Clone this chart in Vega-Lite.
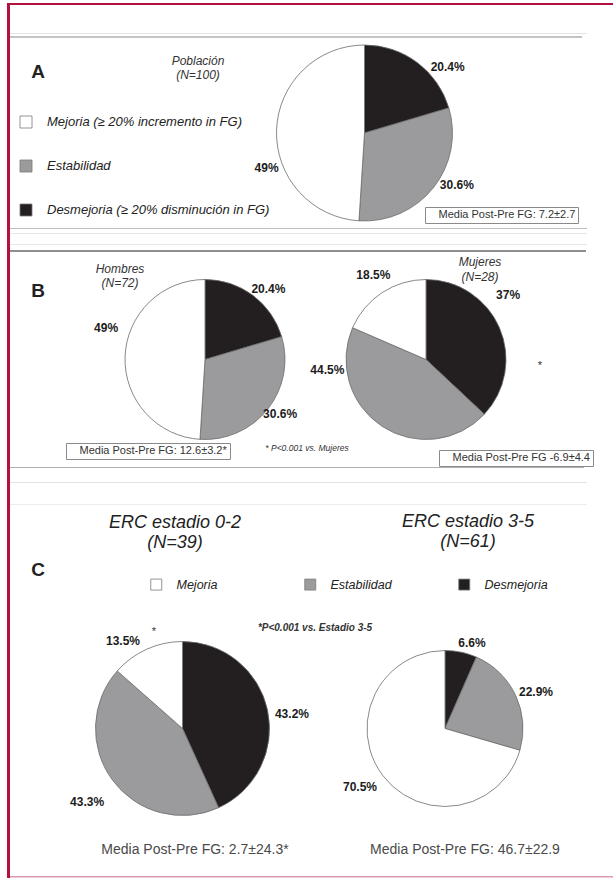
{
  "$schema": "https://vega.github.io/schema/vega-lite/v6.json",
  "padding": {"left": 7, "top": 3, "right": 0, "bottom": 0},
  "background": "#ffffff",
  "config": {
    "view": {"stroke": null},
    "font": "Liberation Sans",
    "text": {"font": "Liberation Sans"},
    "legend": {"labelFont": "Liberation Sans"}
  },
  "datasets": {
    "pies": [
      {"panel": "A", "grupo": "Población", "cat": "Desmejoria", "prop": 0.204},
      {"panel": "A", "grupo": "Población", "cat": "Estabilidad", "prop": 0.306},
      {"panel": "A", "grupo": "Población", "cat": "Mejoria", "prop": 0.49},
      {"panel": "B", "grupo": "Hombres", "cat": "Desmejoria", "prop": 0.204},
      {"panel": "B", "grupo": "Hombres", "cat": "Estabilidad", "prop": 0.306},
      {"panel": "B", "grupo": "Hombres", "cat": "Mejoria", "prop": 0.49},
      {"panel": "B", "grupo": "Mujeres", "cat": "Desmejoria", "prop": 0.37},
      {"panel": "B", "grupo": "Mujeres", "cat": "Estabilidad", "prop": 0.445},
      {"panel": "B", "grupo": "Mujeres", "cat": "Mejoria", "prop": 0.185},
      {"panel": "C", "grupo": "ERC estadio 0-2", "cat": "Desmejoria", "prop": 0.432},
      {"panel": "C", "grupo": "ERC estadio 0-2", "cat": "Estabilidad", "prop": 0.433},
      {"panel": "C", "grupo": "ERC estadio 0-2", "cat": "Mejoria", "prop": 0.135},
      {"panel": "C", "grupo": "ERC estadio 3-5", "cat": "Desmejoria", "prop": 0.066},
      {"panel": "C", "grupo": "ERC estadio 3-5", "cat": "Estabilidad", "prop": 0.229},
      {"panel": "C", "grupo": "ERC estadio 3-5", "cat": "Mejoria", "prop": 0.705}
    ],
    "grupos": [
      {"grupo": "Población", "titulo": "Población\n(N=100)", "nota": "Media Post-Pre FG: 7.2±2.7"},
      {"grupo": "Hombres", "titulo": "Hombres\n(N=72)", "nota": "Media Post-Pre FG: 12.6±3.2*"},
      {"grupo": "Mujeres", "titulo": "Mujeres\n(N=28)", "nota": "Media Post-Pre FG -6.9±4.4"},
      {"grupo": "ERC estadio 0-2", "titulo": "ERC estadio 0-2\n(N=39)", "nota": "Media Post-Pre FG: 2.7±24.3*"},
      {"grupo": "ERC estadio 3-5", "titulo": "ERC estadio 3-5\n(N=61)", "nota": "Media Post-Pre FG: 46.7±22.9"}
    ],
    "anot": [
      {"id": "A", "texto": "A"},
      {"id": "B", "texto": "B"},
      {"id": "C", "texto": "C"},
      {"id": "pB", "texto": "* P<0.001 vs. Mujeres"},
      {"id": "sB", "texto": "*"},
      {"id": "pC", "texto": "*P<0.001 vs. Estadio 3-5"},
      {"id": "sC", "texto": "*"}
    ]
  },
  "spacing": 0,
  "resolve": {"scale": {"color": "independent", "shape": "independent", "theta": "independent"}},
  "vconcat": [
    {"width": 606, "height": 2, "data": {"values": []}, "mark": "rect", "view": {"fill": "#b3123e"}},
    {
      "spacing": 0,
      "resolve": {"scale": {"color": "independent", "shape": "independent", "theta": "independent"}},
      "hconcat": [
        {"width": 3, "height": 873, "data": {"values": []}, "mark": "rect", "view": {"fill": "#b3123e"}},
        {
          "spacing": 0,
          "bounds": "flush",
          "resolve": {"scale": {"color": "independent", "shape": "independent", "theta": "independent"}},
          "vconcat": [
            {"width": 603, "height": 28, "data": {"values": []}, "mark": "rect"},
            {"width": 577, "height": 1, "data": {"values": []}, "mark": "rect", "view": {"fill": "#e3e3e3"}},
            {"width": 10, "height": 2, "data": {"values": []}, "mark": "rect"},
            {"width": 572, "height": 2, "data": {"values": []}, "mark": "rect", "view": {"fill": "#c4c4c4"}},
            {
              "width": 603, "height": 190,
              "layer": [
                {
                  "data": {"name": "pies"},
                  "transform": [{"filter": "datum.grupo === 'Población'"}],
                  "mark": {"type": "arc", "outerRadius": 88, "stroke": "#6b6b6b", "strokeWidth": 0.8},
                  "encoding": {
                    "x": {"field": "grupo", "type": "nominal", "scale": {"type": "point", "domain": ["Población"], "align": 0.5879}, "axis": null},
                    "theta": {"field": "prop", "type": "quantitative", "stack": true},
                    "order": {"field": "cat", "type": "nominal", "sort": "ascending"},
                    "color": {
                      "field": "cat", "type": "nominal",
                      "scale": {"domain": ["Mejoria", "Estabilidad", "Desmejoria"], "range": ["#ffffff", "#9b9b9d", "#231f20"]},
                      "legend": {
                        "orient": "none", "legendX": 9.5, "legendY": 77.5, "direction": "vertical", "title": null,
                        "symbolType": "square", "symbolSize": 144, "symbolStrokeColor": "#7a7a7a", "symbolStrokeWidth": 0.8,
                        "labelFontSize": 13, "labelFontStyle": "italic", "labelColor": "#222222", "labelOffset": 14.5,
                        "rowPadding": 27, "padding": 0, "labelLimit": 400,
                        "labelExpr": "datum.label === 'Mejoria' ? 'Mejoria (≥ 20% incremento in FG)' : datum.label === 'Desmejoria' ? 'Desmejoria (≥ 20% disminución in FG)' : datum.label"
                      }
                    }
                  }
                },
                {
                  "data": {"name": "pies"},
                  "transform": [{"filter": "datum.grupo === 'Población'"}],
                  "mark": {"type": "text", "radius": 104, "dx": 21, "dy": 17, "fontSize": 12, "fontWeight": "bold", "color": "#1c1c1c"},
                  "encoding": {
                    "x": {"field": "grupo", "type": "nominal", "axis": null},
                    "theta": {"field": "prop", "type": "quantitative", "stack": true},
                    "order": {"field": "cat", "type": "nominal", "sort": "ascending"},
                    "detail": {"field": "cat"},
                    "text": {"field": "prop", "type": "quantitative", "format": ".1~%", "condition": {"test": "datum.cat !== 'Desmejoria'", "value": ""}}
                  }
                },
                {
                  "data": {"name": "pies"},
                  "transform": [{"filter": "datum.grupo === 'Población'"}],
                  "mark": {"type": "text", "radius": 104, "dx": 11, "dy": -13, "fontSize": 12, "fontWeight": "bold", "color": "#1c1c1c"},
                  "encoding": {
                    "x": {"field": "grupo", "type": "nominal", "axis": null},
                    "theta": {"field": "prop", "type": "quantitative", "stack": true},
                    "order": {"field": "cat", "type": "nominal", "sort": "ascending"},
                    "detail": {"field": "cat"},
                    "text": {"field": "prop", "type": "quantitative", "format": ".1~%", "condition": {"test": "datum.cat !== 'Estabilidad'", "value": ""}}
                  }
                },
                {
                  "data": {"name": "pies"},
                  "transform": [{"filter": "datum.grupo === 'Población'"}],
                  "mark": {"type": "text", "radius": 104, "dx": 6, "dy": 38, "fontSize": 12, "fontWeight": "bold", "color": "#1c1c1c"},
                  "encoding": {
                    "x": {"field": "grupo", "type": "nominal", "axis": null},
                    "theta": {"field": "prop", "type": "quantitative", "stack": true},
                    "order": {"field": "cat", "type": "nominal", "sort": "ascending"},
                    "detail": {"field": "cat"},
                    "text": {"field": "prop", "type": "quantitative", "format": ".1~%", "condition": {"test": "datum.cat !== 'Mejoria'", "value": ""}}
                  }
                },
                {
                  "data": {"name": "grupos"},
                  "transform": [{"filter": "datum.grupo === 'Población'"}],
                  "mark": {"type": "text", "dx": -166.5, "dy": -72, "fontSize": 12, "fontStyle": "italic", "color": "#333333", "lineBreak": "\n", "lineHeight": 14},
                  "encoding": {
                    "x": {"field": "grupo", "type": "nominal", "axis": null},
                    "text": {"field": "titulo"}
                  }
                },
                {
                  "data": {"name": "anot"},
                  "transform": [{"filter": "datum.id === 'A'"}],
                  "mark": {"type": "text", "dx": -273.5, "dy": -61, "fontSize": 19, "fontWeight": "bold", "color": "#222222"},
                  "encoding": {"text": {"field": "texto"}}
                },
                {
                  "data": {"name": "grupos"},
                  "transform": [{"filter": "datum.grupo === 'Población'"}],
                  "mark": {"type": "point", "opacity": 0},
                  "encoding": {
                    "shape": {
                      "field": "nota", "type": "nominal",
                      "legend": {"orient": "none", "legendX": 415, "legendY": 169, "title": null, "strokeColor": "#8a8a8a", "fillColor": "#ffffff", "padding": 2.5, "symbolSize": 0, "symbolOpacity": 0, "symbolStrokeWidth": 0, "labelOffset": 0, "labelFontSize": 11, "labelColor": "#333333", "labelLimit": 400}
                    }
                  }
                }
              ]
            },
            {"width": 577, "height": 1, "data": {"values": []}, "mark": "rect", "view": {"fill": "#bdbdbd"}},
            {"width": 10, "height": 4, "data": {"values": []}, "mark": "rect"},
            {"width": 577, "height": 1, "data": {"values": []}, "mark": "rect", "view": {"fill": "#e8e8e8"}},
            {"width": 10, "height": 10, "data": {"values": []}, "mark": "rect"},
            {"width": 577, "height": 1, "data": {"values": []}, "mark": "rect", "view": {"fill": "#e8e8e8"}},
            {"width": 10, "height": 5, "data": {"values": []}, "mark": "rect"},
            {"width": 576, "height": 2, "data": {"values": []}, "mark": "rect", "view": {"fill": "#8e8e8e"}},
            {
              "width": 603, "height": 215,
              "resolve": {"scale": {"shape": "independent"}},
              "layer": [
                {
                  "data": {"name": "pies"},
                  "transform": [{"filter": "datum.grupo === 'Hombres'"}],
                  "mark": {"type": "arc", "outerRadius": 80, "stroke": "#6b6b6b", "strokeWidth": 0.8},
                  "encoding": {
                    "x": {"field": "grupo", "type": "nominal", "scale": {"type": "point", "domain": ["Hombres", "Mujeres"], "padding": 0.86425, "align": 0.5105}, "axis": null},
                    "theta": {"field": "prop", "type": "quantitative", "stack": true},
                    "order": {"field": "cat", "type": "nominal", "sort": "ascending"},
                    "color": {"field": "cat", "type": "nominal", "scale": {"domain": ["Mejoria", "Estabilidad", "Desmejoria"], "range": ["#ffffff", "#9b9b9d", "#231f20"]}, "legend": null}
                  }
                },
                {
                  "data": {"name": "pies"},
                  "transform": [{"filter": "datum.grupo === 'Mujeres'"}],
                  "mark": {"type": "arc", "outerRadius": 80, "stroke": "#6b6b6b", "strokeWidth": 0.8},
                  "encoding": {
                    "x": {"field": "grupo", "type": "nominal", "scale": {"type": "point", "domain": ["Hombres", "Mujeres"], "padding": 0.86425, "align": 0.5105}, "axis": null},
                    "theta": {"field": "prop", "type": "quantitative", "stack": true},
                    "order": {"field": "cat", "type": "nominal", "sort": "ascending"},
                    "color": {"field": "cat", "type": "nominal", "scale": {"domain": ["Mejoria", "Estabilidad", "Desmejoria"], "range": ["#ffffff", "#9b9b9d", "#231f20"]}, "legend": null}
                  }
                },
                {
                  "data": {"name": "pies"},
                  "transform": [{"filter": "datum.grupo === 'Hombres'"}],
                  "mark": {"type": "text", "radius": 96, "dx": 6, "dy": 6, "fontSize": 12, "fontWeight": "bold", "color": "#1c1c1c"},
                  "encoding": {
                    "x": {"field": "grupo", "type": "nominal", "axis": null},
                    "theta": {"field": "prop", "type": "quantitative", "stack": true},
                    "order": {"field": "cat", "type": "nominal", "sort": "ascending"},
                    "detail": {"field": "cat"},
                    "text": {"field": "prop", "type": "quantitative", "format": ".1~%", "condition": {"test": "datum.cat !== 'Desmejoria'", "value": ""}}
                  }
                },
                {
                  "data": {"name": "pies"},
                  "transform": [{"filter": "datum.grupo === 'Hombres'"}],
                  "mark": {"type": "text", "radius": 96, "dx": 0, "dy": -5, "fontSize": 12, "fontWeight": "bold", "color": "#1c1c1c"},
                  "encoding": {
                    "x": {"field": "grupo", "type": "nominal", "axis": null},
                    "theta": {"field": "prop", "type": "quantitative", "stack": true},
                    "order": {"field": "cat", "type": "nominal", "sort": "ascending"},
                    "detail": {"field": "cat"},
                    "text": {"field": "prop", "type": "quantitative", "format": ".1~%", "condition": {"test": "datum.cat !== 'Estabilidad'", "value": ""}}
                  }
                },
                {
                  "data": {"name": "pies"},
                  "transform": [{"filter": "datum.grupo === 'Hombres'"}],
                  "mark": {"type": "text", "radius": 96, "dx": -3, "dy": -28, "fontSize": 12, "fontWeight": "bold", "color": "#1c1c1c"},
                  "encoding": {
                    "x": {"field": "grupo", "type": "nominal", "axis": null},
                    "theta": {"field": "prop", "type": "quantitative", "stack": true},
                    "order": {"field": "cat", "type": "nominal", "sort": "ascending"},
                    "detail": {"field": "cat"},
                    "text": {"field": "prop", "type": "quantitative", "format": ".1~%", "condition": {"test": "datum.cat !== 'Mejoria'", "value": ""}}
                  }
                },
                {
                  "data": {"name": "pies"},
                  "transform": [{"filter": "datum.grupo === 'Mujeres'"}],
                  "mark": {"type": "text", "radius": 96, "dx": -6, "dy": -26, "fontSize": 12, "fontWeight": "bold", "color": "#1c1c1c"},
                  "encoding": {
                    "x": {"field": "grupo", "type": "nominal", "axis": null},
                    "theta": {"field": "prop", "type": "quantitative", "stack": true},
                    "order": {"field": "cat", "type": "nominal", "sort": "ascending"},
                    "detail": {"field": "cat"},
                    "text": {"field": "prop", "type": "quantitative", "format": ".1~%", "condition": {"test": "datum.cat !== 'Desmejoria'", "value": ""}}
                  }
                },
                {
                  "data": {"name": "pies"},
                  "transform": [{"filter": "datum.grupo === 'Mujeres'"}],
                  "mark": {"type": "text", "radius": 96, "dx": -46, "dy": -70, "fontSize": 12, "fontWeight": "bold", "color": "#1c1c1c"},
                  "encoding": {
                    "x": {"field": "grupo", "type": "nominal", "axis": null},
                    "theta": {"field": "prop", "type": "quantitative", "stack": true},
                    "order": {"field": "cat", "type": "nominal", "sort": "ascending"},
                    "detail": {"field": "cat"},
                    "text": {"field": "prop", "type": "quantitative", "format": ".1~%", "condition": {"test": "datum.cat !== 'Estabilidad'", "value": ""}}
                  }
                },
                {
                  "data": {"name": "pies"},
                  "transform": [{"filter": "datum.grupo === 'Mujeres'"}],
                  "mark": {"type": "text", "radius": 96, "dx": 0, "dy": -4, "fontSize": 12, "fontWeight": "bold", "color": "#1c1c1c"},
                  "encoding": {
                    "x": {"field": "grupo", "type": "nominal", "axis": null},
                    "theta": {"field": "prop", "type": "quantitative", "stack": true},
                    "order": {"field": "cat", "type": "nominal", "sort": "ascending"},
                    "detail": {"field": "cat"},
                    "text": {"field": "prop", "type": "quantitative", "format": ".1~%", "condition": {"test": "datum.cat !== 'Mejoria'", "value": ""}}
                  }
                },
                {
                  "data": {"name": "grupos"},
                  "transform": [{"filter": "datum.grupo === 'Hombres'"}],
                  "mark": {"type": "text", "dx": -85, "dy": -90.5, "fontSize": 12, "fontStyle": "italic", "color": "#333333", "lineBreak": "\n", "lineHeight": 14},
                  "encoding": {
                    "x": {"field": "grupo", "type": "nominal", "axis": null},
                    "text": {"field": "titulo"}
                  }
                },
                {
                  "data": {"name": "grupos"},
                  "transform": [{"filter": "datum.grupo === 'Mujeres'"}],
                  "mark": {"type": "text", "dx": 54, "dy": -97.5, "fontSize": 12, "fontStyle": "italic", "color": "#333333", "lineBreak": "\n", "lineHeight": 15},
                  "encoding": {
                    "x": {"field": "grupo", "type": "nominal", "axis": null},
                    "text": {"field": "titulo"}
                  }
                },
                {
                  "data": {"name": "anot"},
                  "transform": [{"filter": "datum.id === 'B'"}],
                  "mark": {"type": "text", "dx": -273.5, "dy": -68.5, "fontSize": 19, "fontWeight": "bold", "color": "#222222"},
                  "encoding": {"text": {"field": "texto"}}
                },
                {
                  "data": {"name": "anot"},
                  "transform": [{"filter": "datum.id === 'pB'"}],
                  "mark": {"type": "text", "dx": -4.5, "dy": 88.5, "fontSize": 8.5, "fontStyle": "italic", "color": "#333333"},
                  "encoding": {"text": {"field": "texto"}}
                },
                {
                  "data": {"name": "anot"},
                  "transform": [{"filter": "datum.id === 'sB'"}],
                  "mark": {"type": "text", "dx": 228.5, "dy": 6.5, "fontSize": 11, "color": "#333333"},
                  "encoding": {"text": {"field": "texto"}}
                },
                {
                  "data": {"name": "grupos"},
                  "transform": [{"filter": "datum.grupo === 'Hombres'"}],
                  "mark": {"type": "point", "opacity": 0},
                  "encoding": {
                    "shape": {
                      "field": "nota", "type": "nominal",
                      "legend": {"orient": "none", "legendX": 56, "legendY": 191, "title": null, "strokeColor": "#8a8a8a", "fillColor": "#ffffff", "padding": 2.5, "symbolSize": 0, "symbolOpacity": 0, "symbolStrokeWidth": 0, "labelOffset": 0, "labelFontSize": 11, "labelColor": "#333333", "labelLimit": 400}
                    }
                  }
                },
                {
                  "data": {"name": "grupos"},
                  "transform": [{"filter": "datum.grupo === 'Mujeres'"}],
                  "mark": {"type": "point", "opacity": 0},
                  "encoding": {
                    "shape": {
                      "field": "nota", "type": "nominal",
                      "legend": {"orient": "none", "legendX": 429, "legendY": 198, "title": null, "strokeColor": "#8a8a8a", "fillColor": "#ffffff", "padding": 2.5, "symbolSize": 0, "symbolOpacity": 0, "symbolStrokeWidth": 0, "labelOffset": 0, "labelFontSize": 11, "labelColor": "#333333", "labelLimit": 400}
                    }
                  }
                }
              ]
            },
            {"width": 574, "height": 1, "data": {"values": []}, "mark": "rect", "view": {"fill": "#b0b0b0"}},
            {"width": 10, "height": 14, "data": {"values": []}, "mark": "rect"},
            {"width": 577, "height": 1, "data": {"values": []}, "mark": "rect", "view": {"fill": "#e3e3e3"}},
            {"width": 10, "height": 21, "data": {"values": []}, "mark": "rect"},
            {"width": 577, "height": 1, "data": {"values": []}, "mark": "rect", "view": {"fill": "#ececec"}},
            {
              "width": 603, "height": 136,
              "layer": [
                {
                  "data": {"name": "grupos"},
                  "transform": [{"filter": "datum.grupo === 'ERC estadio 0-2'"}],
                  "mark": {"type": "text", "dx": -7.5, "dy": -50, "fontSize": 18, "fontStyle": "italic", "color": "#222222", "lineBreak": "\n", "lineHeight": 20},
                  "encoding": {
                    "x": {"field": "grupo", "type": "nominal", "scale": {"type": "point", "domain": ["ERC estadio 0-2", "ERC estadio 3-5"], "padding": 0.64857, "align": 0.50661}, "axis": null},
                    "text": {"field": "titulo"}
                  }
                },
                {
                  "data": {"name": "grupos"},
                  "transform": [{"filter": "datum.grupo === 'ERC estadio 3-5'"}],
                  "mark": {"type": "text", "dx": 23, "dy": -51, "fontSize": 18, "fontStyle": "italic", "color": "#222222", "lineBreak": "\n", "lineHeight": 20},
                  "encoding": {
                    "x": {"field": "grupo", "type": "nominal", "scale": {"type": "point", "domain": ["ERC estadio 0-2", "ERC estadio 3-5"], "padding": 0.64857, "align": 0.50661}, "axis": null},
                    "text": {"field": "titulo"}
                  }
                },
                {
                  "data": {"name": "anot"},
                  "transform": [{"filter": "datum.id === 'C'"}],
                  "mark": {"type": "text", "dx": -273.5, "dy": -3, "fontSize": 19, "fontWeight": "bold", "color": "#222222"},
                  "encoding": {"text": {"field": "texto"}}
                },
                {
                  "data": {"name": "anot"},
                  "transform": [{"filter": "datum.id === 'pC'"}],
                  "mark": {"type": "text", "dx": 3.5, "dy": 55, "fontSize": 10, "fontStyle": "italic", "fontWeight": "bold", "color": "#333333"},
                  "encoding": {"text": {"field": "texto"}}
                },
                {
                  "data": {"name": "anot"},
                  "transform": [{"filter": "datum.id === 'sC'"}],
                  "mark": {"type": "text", "dx": -157.5, "dy": 59, "fontSize": 11, "color": "#333333"},
                  "encoding": {"text": {"field": "texto"}}
                }
              ]
            },
            {
              "width": 603, "height": 175,
              "layer": [
                {
                  "data": {"name": "pies"},
                  "transform": [{"filter": "datum.grupo === 'ERC estadio 0-2'"}],
                  "mark": {"type": "arc", "outerRadius": 87, "stroke": "#6b6b6b", "strokeWidth": 0.8},
                  "encoding": {
                    "x": {"field": "grupo", "type": "nominal", "scale": {"type": "point", "domain": ["ERC estadio 0-2", "ERC estadio 3-5"], "padding": 0.64857, "align": 0.50661}, "axis": null},
                    "theta": {"field": "prop", "type": "quantitative", "stack": true},
                    "order": {"field": "cat", "type": "nominal", "sort": "ascending"},
                    "color": {
                      "field": "cat", "type": "nominal",
                      "scale": {"domain": ["Mejoria", "Estabilidad", "Desmejoria"], "range": ["#ffffff", "#9b9b9d", "#231f20"]},
                      "legend": {"orient": "none", "legendX": 140, "legendY": -63, "direction": "horizontal", "columns": 3, "gridAlign": "all", "columnPadding": 63, "title": null, "symbolType": "square", "symbolSize": 121, "symbolStrokeColor": "#7a7a7a", "symbolStrokeWidth": 0.8, "labelFontSize": 12.5, "labelFontStyle": "italic", "labelColor": "#222222", "labelOffset": 14, "padding": 0, "labelLimit": 300}
                    }
                  }
                },
                {
                  "data": {"name": "pies"},
                  "transform": [{"filter": "datum.grupo === 'ERC estadio 3-5'"}],
                  "mark": {"type": "arc", "outerRadius": 78, "stroke": "#6b6b6b", "strokeWidth": 0.8},
                  "encoding": {
                    "x": {"field": "grupo", "type": "nominal", "scale": {"type": "point", "domain": ["ERC estadio 0-2", "ERC estadio 3-5"], "padding": 0.64857, "align": 0.50661}, "axis": null},
                    "theta": {"field": "prop", "type": "quantitative", "stack": true},
                    "order": {"field": "cat", "type": "nominal", "sort": "ascending"},
                    "color": {
                      "field": "cat", "type": "nominal",
                      "scale": {"domain": ["Mejoria", "Estabilidad", "Desmejoria"], "range": ["#ffffff", "#9b9b9d", "#231f20"]},
                      "legend": {"orient": "none", "legendX": 140, "legendY": -63, "direction": "horizontal", "columns": 3, "gridAlign": "all", "columnPadding": 63, "title": null, "symbolType": "square", "symbolSize": 121, "symbolStrokeColor": "#7a7a7a", "symbolStrokeWidth": 0.8, "labelFontSize": 12.5, "labelFontStyle": "italic", "labelColor": "#222222", "labelOffset": 14, "padding": 0, "labelLimit": 300}
                    }
                  }
                },
                {
                  "data": {"name": "pies"},
                  "transform": [{"filter": "datum.grupo === 'ERC estadio 0-2'"}],
                  "mark": {"type": "text", "radius": 103, "dx": 8.8, "dy": 7.3, "fontSize": 12, "fontWeight": "bold", "color": "#1c1c1c"},
                  "encoding": {
                    "x": {"field": "grupo", "type": "nominal", "axis": null},
                    "theta": {"field": "prop", "type": "quantitative", "stack": true},
                    "order": {"field": "cat", "type": "nominal", "sort": "ascending"},
                    "detail": {"field": "cat"},
                    "text": {"field": "prop", "type": "quantitative", "format": ".1~%", "condition": {"test": "datum.cat !== 'Desmejoria'", "value": ""}}
                  }
                },
                {
                  "data": {"name": "pies"},
                  "transform": [{"filter": "datum.grupo === 'ERC estadio 0-2'"}],
                  "mark": {"type": "text", "radius": 103, "dx": -12.7, "dy": 12.2, "fontSize": 12, "fontWeight": "bold", "color": "#1c1c1c"},
                  "encoding": {
                    "x": {"field": "grupo", "type": "nominal", "axis": null},
                    "theta": {"field": "prop", "type": "quantitative", "stack": true},
                    "order": {"field": "cat", "type": "nominal", "sort": "ascending"},
                    "detail": {"field": "cat"},
                    "text": {"field": "prop", "type": "quantitative", "format": ".1~%", "condition": {"test": "datum.cat !== 'Estabilidad'", "value": ""}}
                  }
                },
                {
                  "data": {"name": "pies"},
                  "transform": [{"filter": "datum.grupo === 'ERC estadio 0-2'"}],
                  "mark": {"type": "text", "radius": 103, "dx": -17.1, "dy": 6.4, "fontSize": 12, "fontWeight": "bold", "color": "#1c1c1c"},
                  "encoding": {
                    "x": {"field": "grupo", "type": "nominal", "axis": null},
                    "theta": {"field": "prop", "type": "quantitative", "stack": true},
                    "order": {"field": "cat", "type": "nominal", "sort": "ascending"},
                    "detail": {"field": "cat"},
                    "text": {"field": "prop", "type": "quantitative", "format": ".1~%", "condition": {"test": "datum.cat !== 'Mejoria'", "value": ""}}
                  }
                },
                {
                  "data": {"name": "pies"},
                  "transform": [{"filter": "datum.grupo === 'ERC estadio 3-5'"}],
                  "mark": {"type": "text", "radius": 94, "dx": 7.6, "dy": 6.5, "fontSize": 12, "fontWeight": "bold", "color": "#1c1c1c"},
                  "encoding": {
                    "x": {"field": "grupo", "type": "nominal", "axis": null},
                    "theta": {"field": "prop", "type": "quantitative", "stack": true},
                    "order": {"field": "cat", "type": "nominal", "sort": "ascending"},
                    "detail": {"field": "cat"},
                    "text": {"field": "prop", "type": "quantitative", "format": ".1~%", "condition": {"test": "datum.cat !== 'Desmejoria'", "value": ""}}
                  }
                },
                {
                  "data": {"name": "pies"},
                  "transform": [{"filter": "datum.grupo === 'ERC estadio 3-5'"}],
                  "mark": {"type": "text", "radius": 94, "dx": 5.8, "dy": 3.3, "fontSize": 12, "fontWeight": "bold", "color": "#1c1c1c"},
                  "encoding": {
                    "x": {"field": "grupo", "type": "nominal", "axis": null},
                    "theta": {"field": "prop", "type": "quantitative", "stack": true},
                    "order": {"field": "cat", "type": "nominal", "sort": "ascending"},
                    "detail": {"field": "cat"},
                    "text": {"field": "prop", "type": "quantitative", "format": ".1~%", "condition": {"test": "datum.cat !== 'Estabilidad'", "value": ""}}
                  }
                },
                {
                  "data": {"name": "pies"},
                  "transform": [{"filter": "datum.grupo === 'ERC estadio 3-5'"}],
                  "mark": {"type": "text", "radius": 94, "dx": -9.8, "dy": 2.1, "fontSize": 12, "fontWeight": "bold", "color": "#1c1c1c"},
                  "encoding": {
                    "x": {"field": "grupo", "type": "nominal", "axis": null},
                    "theta": {"field": "prop", "type": "quantitative", "stack": true},
                    "order": {"field": "cat", "type": "nominal", "sort": "ascending"},
                    "detail": {"field": "cat"},
                    "text": {"field": "prop", "type": "quantitative", "format": ".1~%", "condition": {"test": "datum.cat !== 'Mejoria'", "value": ""}}
                  }
                }
              ]
            },
            {
              "width": 603, "height": 59,
              "layer": [
                {
                  "data": {"name": "grupos"},
                  "transform": [{"filter": "datum.grupo === 'ERC estadio 0-2'"}],
                  "mark": {"type": "text", "dx": 12.5, "dy": 4.5, "fontSize": 14, "color": "#4a4a4a"},
                  "encoding": {
                    "x": {"field": "grupo", "type": "nominal", "scale": {"type": "point", "domain": ["ERC estadio 0-2", "ERC estadio 3-5"], "padding": 0.64857, "align": 0.50661}, "axis": null},
                    "text": {"field": "nota"}
                  }
                },
                {
                  "data": {"name": "grupos"},
                  "transform": [{"filter": "datum.grupo === 'ERC estadio 3-5'"}],
                  "mark": {"type": "text", "dx": 20, "dy": 4.5, "fontSize": 14, "color": "#4a4a4a"},
                  "encoding": {
                    "x": {"field": "grupo", "type": "nominal", "scale": {"type": "point", "domain": ["ERC estadio 0-2", "ERC estadio 3-5"], "padding": 0.64857, "align": 0.50661}, "axis": null},
                    "text": {"field": "nota"}
                  }
                }
              ]
            },
            {"width": 10, "height": 1, "data": {"values": []}, "mark": "rect"},
            {"width": 603, "height": 1.5, "data": {"values": []}, "mark": "rect", "view": {"fill": "#dd9aac"}}
          ]
        }
      ]
    }
  ]
}
